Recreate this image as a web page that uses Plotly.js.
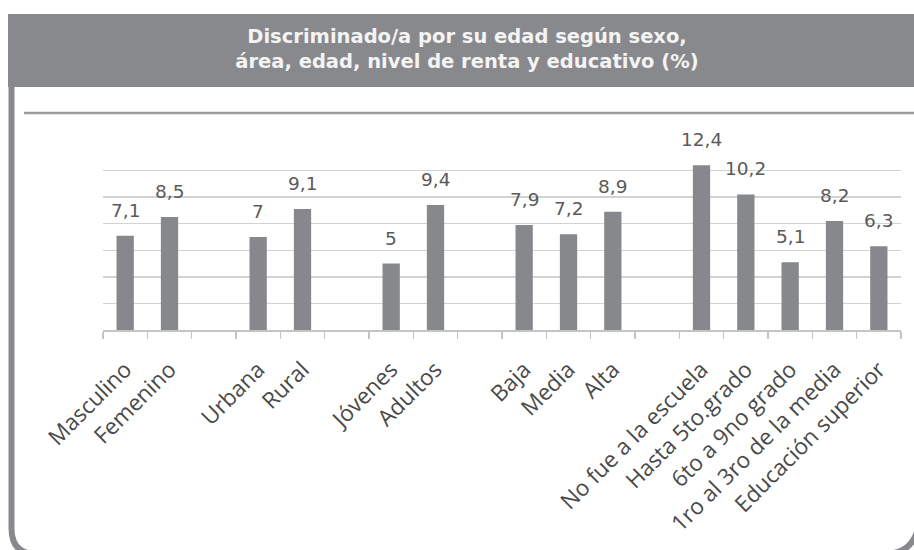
<!DOCTYPE html>
<html>
<head>
<meta charset="utf-8">
<script src="https://cdn.plot.ly/plotly-3.0.1.min.js"></script>
<style>
html,body{margin:0;padding:0;background:#fff;}
#chart{width:914px;height:550px;}
</style>
</head>
<body>
<div id="chart"></div>
<script>
// ---- data ----
const categories = ['Masculino','Femenino',' ','Urbana','Rural','  ','Jóvenes','Adultos','   ','Baja','Media','Alta','    ','No fue a la escuela','Hasta 5to.grado','6to a 9no grado','1ro al 3ro de la media','Educación superior'];
const values = [7.1, 8.5, null, 7, 9.1, null, 5, 9.4, null, 7.9, 7.2, 8.9, null, 12.4, 10.2, 5.1, 8.2, 6.3];
const valueLabels = ['7,1','8,5','','7','9,1','','5','9,4','','7,9','7,2','8,9','','12,4','10,2','5,1','8,2','6,3'];
const titleLines = ['Discriminado/a por su edad según sexo,', 'área, edad, nivel de renta y educativo (%)'];

// ---- layout geometry (pixels) ----
const W = 914, H = 550;
const M = {l: 103, r: 13, t: 144, b: 220};
const PW = W - M.l - M.r, PH = H - M.t - M.b;
const px = v => (v - M.l) / PW;
const py = v => (H - M.b - v) / PH;

const annotations = [];
values.forEach((v, i) => {
  if (v === null) return;
  annotations.push({
    x: categories[i], y: v, xref: 'x', yref: 'y',
    text: valueLabels[i], showarrow: false,
    yanchor: 'bottom', yshift: 13,
    font: {family: 'DejaVu Sans, sans-serif', size: 18.5, color: '#5a5a5a'}
  });
});

const frame = '#88898d';
const shapes = [
  // header band
  {type: 'rect', xref: 'paper', yref: 'paper', x0: px(8), x1: px(930), y0: py(87), y1: py(14),
   fillcolor: frame, line: {width: 0}, layer: 'below'},
  // outer frame (left side with rounded bottom corners)
  {type: 'path', xref: 'paper', yref: 'paper', layer: 'below',
   path: 'M ' + px(11.5) + ' ' + py(14) +
         ' L ' + px(11.5) + ' ' + py(528) +
         ' Q ' + px(11.5) + ' ' + py(554) + ' ' + px(36) + ' ' + py(554) +
         ' L ' + px(884) + ' ' + py(554) +
         ' Q ' + px(912) + ' ' + py(554) + ' ' + px(918) + ' ' + py(528),
   line: {color: frame, width: 6}},
  // top rule
  {type: 'line', xref: 'paper', yref: 'paper', x0: px(24), x1: px(914), y0: py(113), y1: py(113),
   line: {color: '#9b9b9b', width: 2.5}, layer: 'below'}
];

const trace = {
  type: 'bar',
  x: categories,
  y: values,
  width: 0.39,
  marker: {color: '#87888c', line: {width: 0}},
  hoverinfo: 'skip'
};

const layout = {
  width: W, height: H,
  margin: M,
  paper_bgcolor: '#ffffff',
  plot_bgcolor: 'rgba(0,0,0,0)',
  showlegend: false,
  title: {
    text: titleLines.join('<br>'),
    x: 467 / W, xanchor: 'center', xref: 'container',
    y: 1 - 43 / H, yref: 'container', yanchor: 'middle',
    font: {family: 'DejaVu Sans, sans-serif', size: 19.5, color: '#f4f4f4', weight: 'bold'}
  },
  xaxis: {
    type: 'category',
    categoryorder: 'array', categoryarray: categories,
    tickson: 'boundaries',
    ticks: 'outside', ticklen: 7, tickwidth: 1.5, tickcolor: '#c4c4c4',
    showline: true, linecolor: '#c4c4c4', linewidth: 1.5,
    tickangle: -45,
    ticklabelstandoff: 16,
    tickfont: {family: 'Open Sans, sans-serif', size: 22.5, color: '#4a4a4a'},
    showgrid: false, zeroline: false,
    range: [-0.5, categories.length - 0.5],
    fixedrange: true
  },
  yaxis: {
    range: [0, 14], dtick: 2,
    showticklabels: false, ticks: '',
    showgrid: true, gridcolor: '#d2d2d2', gridwidth: 1.5,
    zeroline: false, showline: false,
    fixedrange: true
  },
  shapes: shapes,
  annotations: annotations
};

Plotly.newPlot('chart', [trace], layout, {displayModeBar: false, staticPlot: true});
</script>
</body>
</html>
